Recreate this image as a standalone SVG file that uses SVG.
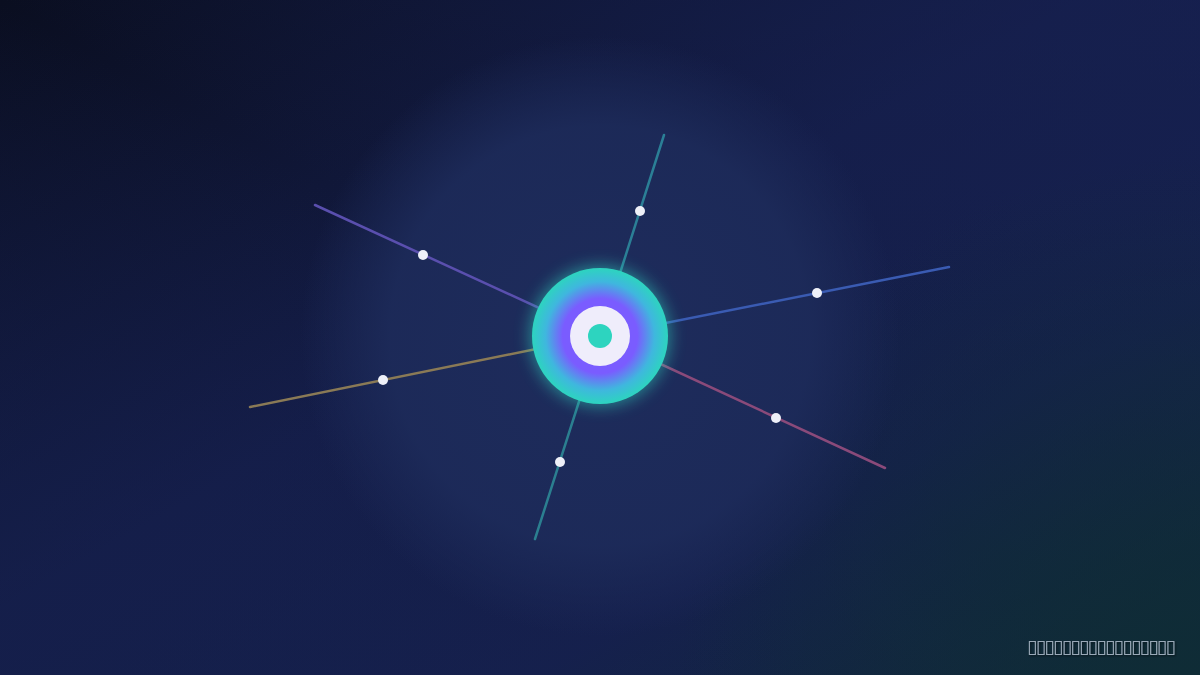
<svg xmlns="http://www.w3.org/2000/svg" width="1200" height="675" viewBox="0 0 1200 675">
<defs>
<linearGradient id="bg" x1="0" y1="0" x2="1" y2="1">
<stop offset="0" stop-color="#0a0e20"/>
<stop offset="0.45" stop-color="#141d48"/>
<stop offset="0.72" stop-color="#15204c"/>
<stop offset="1" stop-color="#0f2c36"/>
</linearGradient>
<linearGradient id="bg2" x1="1" y1="0" x2="0" y2="1">
<stop offset="0" stop-color="#172152" stop-opacity="0.6"/>
<stop offset="0.5" stop-color="#172152" stop-opacity="0"/>
<stop offset="1" stop-color="#15204c" stop-opacity="0.5"/>
</linearGradient>
<radialGradient id="teal" cx="1200" cy="675" r="520" gradientUnits="userSpaceOnUse">
<stop offset="0" stop-color="#0f2c36" stop-opacity="0.9"/>
<stop offset="1" stop-color="#0f2c36" stop-opacity="0"/>
</radialGradient>
<radialGradient id="glow" cx="600" cy="336" r="300" gradientUnits="userSpaceOnUse">
<stop offset="0" stop-color="#1e2c5c"/>
<stop offset="0.7" stop-color="#1d2b5a" stop-opacity="0.9"/>
<stop offset="1" stop-color="#1d2b5a" stop-opacity="0"/>
</radialGradient>
<radialGradient id="core" cx="0.5" cy="0.5" r="0.5">
<stop offset="0" stop-color="#7a5cff"/>
<stop offset="0.55" stop-color="#7a5cff"/>
<stop offset="0.8" stop-color="#3fb7de"/>
<stop offset="1" stop-color="#2dd4bf"/>
</radialGradient>
<filter id="blur" x="-50%" y="-50%" width="200%" height="200%">
<feGaussianBlur stdDeviation="8"/>
</filter>
<filter id="shadow" x="-10%" y="-50%" width="120%" height="200%">
<feDropShadow dx="1" dy="1" stdDeviation="1" flood-color="#000" flood-opacity="0.6"/>
</filter>
</defs>
<style>
.spoke{stroke-width:2.5;fill:none;stroke-linecap:round}
.dot{fill:#eef0f8}
.cap{font-family:"DejaVu Sans",sans-serif;font-size:19px;fill:#9aa9b8}
</style>
<rect width="1200" height="675" fill="url(#bg)"/>
<rect width="1200" height="675" fill="url(#bg2)"/>
<rect width="1200" height="675" fill="url(#teal)"/>
<circle cx="600" cy="336" r="300" fill="url(#glow)"/>
<g id="connectors">
<line class="spoke" x1="600" y1="336" x2="315" y2="205" stroke="#5a4fae"/>
<line class="spoke" x1="600" y1="336" x2="250" y2="407" stroke="#8a7a56"/>
<line class="spoke" x1="600" y1="336" x2="664" y2="135" stroke="#2b7f96"/>
<line class="spoke" x1="600" y1="336" x2="535" y2="539" stroke="#2b7f90"/>
<line class="spoke" x1="600" y1="336" x2="949" y2="267" stroke="#3a5bb2"/>
<line class="spoke" x1="600" y1="336" x2="885" y2="468" stroke="#8a4a7a"/>
<circle class="dot" cx="423" cy="255" r="5"/>
<circle class="dot" cx="383" cy="380" r="5"/>
<circle class="dot" cx="640" cy="211" r="5"/>
<circle class="dot" cx="560" cy="462" r="5"/>
<circle class="dot" cx="817" cy="293" r="5"/>
<circle class="dot" cx="776" cy="418" r="5"/>
</g>
<g id="hub">
<circle cx="600" cy="336" r="70" fill="#2dd4bf" opacity="0.55" filter="url(#blur)"/>
<circle cx="600" cy="336" r="68" fill="url(#core)"/>
<circle cx="600" cy="336" r="30" fill="#efedfb"/>
<circle cx="600" cy="336" r="12" fill="#2dd4bf"/>
</g>
<text class="cap" x="1176" y="653" text-anchor="end" textLength="149" lengthAdjust="spacing" filter="url(#shadow)">▯▯▯▯▯▯▯▯▯▯▯▯▯▯▯▯▯</text>
</svg>
